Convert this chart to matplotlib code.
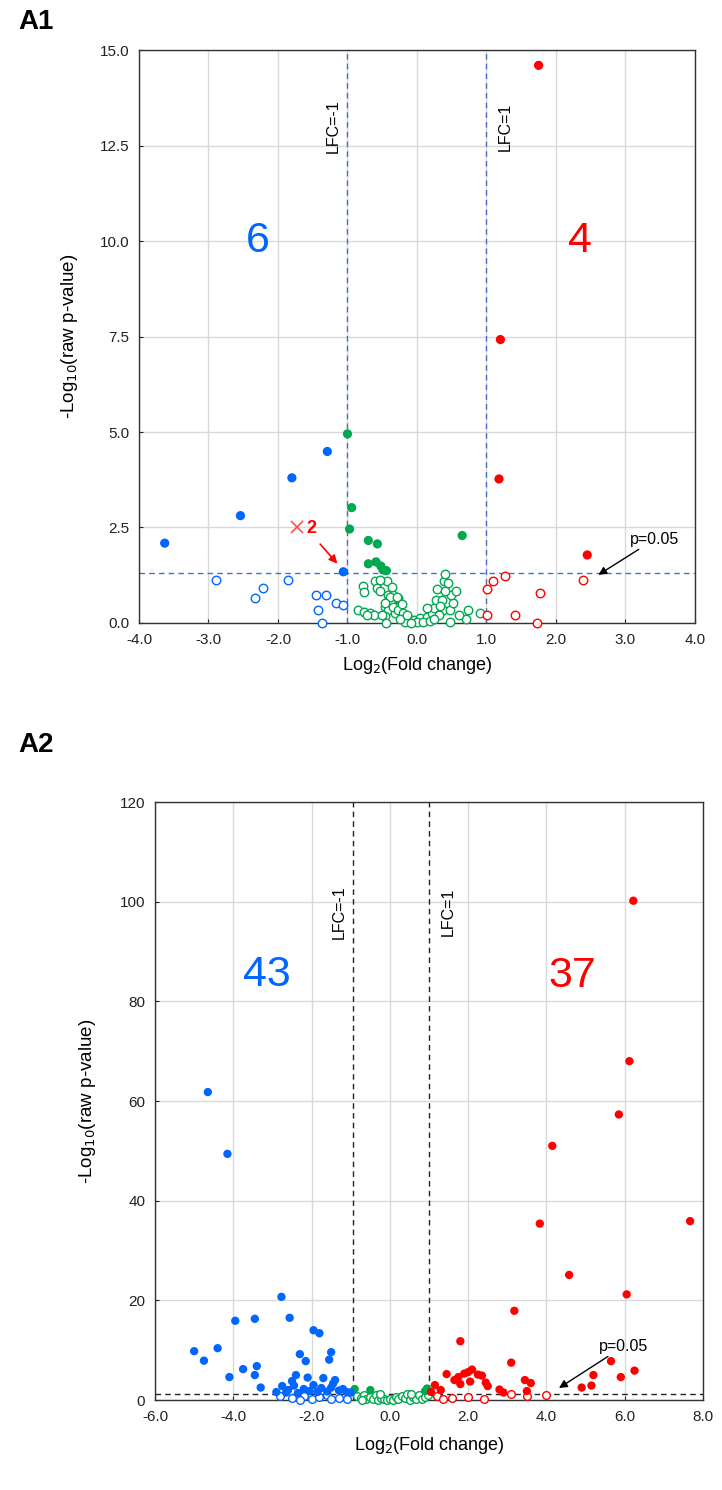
import matplotlib.pyplot as plt
from matplotlib.ticker import FormatStrFormatter

plt.rcParams['font.family'] = ['Liberation Sans', 'DejaVu Sans']

BLUE = '#0066FF'
GREEN = '#00A850'
RED = '#FF0000'

# ---------------- A1 data (log2 FC, -log10 p) ----------------
a1_blue_fill = [(-3.63, 2.09), (-2.54, 2.81), (-1.80, 3.80), (-1.29, 4.49), (-1.06, 1.34)]
a1_blue_open = [(-2.89, 1.13), (-2.21, 0.92), (-2.33, 0.65), (-1.85, 1.13), (-1.45, 0.72),
                (-1.31, 0.72), (-1.42, 0.34), (-1.17, 0.52), (-1.07, 0.47), (-1.36, 0.01)]
a1_green_fill = [(-1.00, 4.95), (-0.94, 3.02), (-0.97, 2.46), (-0.70, 2.16), (-0.57, 2.07),
                 (-0.70, 1.55), (-0.59, 1.60), (-0.52, 1.49), (-0.44, 1.37), (-0.49, 1.39),
                 (0.65, 2.29)]
a1_green_open = [(-0.77, 0.97), (-0.76, 0.82), (-0.85, 0.34), (-0.76, 0.30), (-0.68, 0.25),
                 (-0.60, 1.10), (-0.58, 0.91), (-0.53, 0.85), (-0.43, 1.10), (-0.41, 0.73),
                 (-0.38, 0.60), (-0.46, 0.43), (-0.41, 0.34), (-0.46, 0.17), (-0.44, 0.00),
                 (-0.32, 0.25), (-0.29, 0.43), (-0.34, 0.73), (-0.27, 0.65), (-0.53, 1.13),
                 (-0.39, 0.69), (-0.29, 0.69), (-0.46, 0.52), (-0.34, 0.43), (-0.27, 0.34),
                 (-0.20, 0.25), (-0.13, 0.12), (-0.05, 0.08), (0.04, 0.12), (0.14, 0.15),
                 (0.21, 0.25), (0.24, 0.38), (0.38, 0.34), (0.47, 0.34), (0.31, 0.21),
                 (0.48, 0.03), (0.27, 0.60), (0.36, 0.60), (0.52, 0.53), (0.49, 0.73),
                 (0.29, 0.88), (0.41, 0.85), (0.56, 0.84), (0.39, 1.10), (0.40, 1.28),
                 (0.74, 0.34), (0.71, 0.10), (0.90, 0.25), (0.00, 0.03), (-0.17, 0.03),
                 (0.09, 0.03), (-0.24, 0.10), (-0.62, 0.20), (-0.72, 0.22), (-0.22, 0.50),
                 (-0.15, 0.20), (-0.08, 0.00), (0.18, 0.05), (0.33, 0.45), (0.44, 1.05),
                 (0.60, 0.20), (-0.36, 0.95), (-0.50, 0.20), (0.15, 0.40), (0.25, 0.10)]
a1_red_fill = [(1.75, 14.6), (1.20, 7.42), (1.18, 3.77), (2.45, 1.78)]
a1_red_open = [(1.01, 0.89), (1.09, 1.10), (1.27, 1.24), (1.01, 0.21), (1.41, 0.21),
               (1.77, 0.79), (1.72, 0.01), (2.39, 1.13)]

# ---------------- A2 data ----------------
a2_blue_fill = [(-4.65, 61.8), (-4.15, 49.4), (-5.0, 9.8), (-4.75, 7.9), (-4.4, 10.4),
                (-3.95, 15.9), (-3.45, 16.3), (-4.1, 4.6), (-3.75, 6.2), (-3.4, 6.8),
                (-3.45, 5.0), (-3.3, 2.5), (-2.77, 20.7), (-2.56, 16.5), (-2.75, 2.8),
                (-2.3, 9.2), (-2.15, 7.8), (-1.95, 14.0), (-1.8, 13.4), (-1.5, 9.6),
                (-1.55, 8.1), (-1.95, 3.0), (-2.4, 5.0), (-2.6, 2.0), (-1.7, 4.4),
                (-1.45, 3.3), (-2.2, 2.2), (-2.05, 1.8), (-1.85, 1.6), (-1.3, 1.9),
                (-1.2, 2.2), (-2.5, 3.8), (-2.65, 1.5), (-2.35, 1.4), (-1.6, 1.7),
                (-1.1, 1.6), (-1.4, 4.0), (-1.5, 2.5), (-2.1, 4.5), (-2.9, 1.6),
                (-1.0, 1.5), (-1.75, 2.4), (-2.45, 2.9)]
a2_blue_open = [(-2.8, 0.8), (-2.5, 0.4), (-2.2, 0.9), (-2.0, 0.3), (-1.8, 0.6),
                (-1.6, 1.0), (-1.3, 0.5), (-1.1, 0.2), (-2.3, 0.1), (-1.5, 0.2)]
a2_green_fill = [(-0.9, 2.2), (-0.5, 2.0), (0.95, 2.3), (0.9, 1.8)]
a2_green_open = [(-0.85, 0.9), (-0.75, 0.4), (-0.65, 1.1), (-0.6, 0.2), (-0.5, 0.7),
                 (-0.42, 0.3), (-0.35, 1.0), (-0.3, 0.1), (-0.22, 0.5), (-0.15, 0.2),
                 (-0.08, 0.0), (0.0, 0.3), (0.08, 0.1), (0.15, 0.6), (0.22, 0.2),
                 (0.3, 0.9), (0.38, 0.4), (0.45, 1.2), (0.52, 0.1), (0.6, 0.7),
                 (0.68, 0.3), (0.75, 1.0), (0.82, 0.2), (0.9, 0.6), (0.97, 1.1),
                 (-0.7, 0.0), (0.55, 1.3), (-0.25, 1.2)]
a2_red_fill = [(6.22, 100.2), (6.12, 68.0), (5.85, 57.3), (4.15, 51.0), (3.83, 35.4),
               (7.67, 35.9), (4.58, 25.1), (6.05, 21.2), (3.18, 17.9), (1.8, 11.8),
               (5.65, 7.8), (6.25, 5.9), (5.2, 5.0), (5.9, 4.6), (3.1, 7.5),
               (2.0, 5.6), (2.25, 5.1), (1.9, 5.3), (1.45, 5.2), (1.15, 3.0),
               (1.3, 2.0), (1.65, 4.0), (1.8, 3.2), (2.05, 3.7), (2.35, 4.9),
               (2.45, 3.5), (2.8, 2.1), (3.45, 4.0), (3.6, 3.4), (3.5, 1.8),
               (4.9, 2.5), (5.15, 2.9), (2.1, 6.1), (1.75, 4.6), (2.5, 2.8),
               (1.05, 1.6), (2.9, 1.5)]
a2_red_open = [(1.2, 0.8), (1.6, 0.4), (2.4, 0.3), (3.1, 1.2), (3.5, 0.9),
               (4.0, 1.0), (1.35, 0.3), (2.0, 0.7)]


def dots(ax, pts, color, filled, s):
    xs = [p[0] for p in pts]
    ys = [p[1] for p in pts]
    if filled:
        ax.scatter(xs, ys, s=s, color=color, edgecolors='none', zorder=3, clip_on=False)
    else:
        ax.scatter(xs, ys, s=s * 0.85, facecolors='white', edgecolors=color,
                   linewidths=1.0, zorder=3, clip_on=False)


def style(ax):
    ax.grid(True, color='#D9D9D9', linewidth=1.0)
    ax.set_axisbelow(True)
    for sp in ax.spines.values():
        sp.set_color('#333333')
        sp.set_linewidth(1.0)
    ax.tick_params(direction='in', length=3, labelsize=11, colors='#222222', pad=7)


fig = plt.figure(figsize=(7.22, 14.9), dpi=100)

# ---------------- A1 ----------------
ax1 = fig.add_axes([0.1925, 0.5819, 0.7701, 0.3845])
style(ax1)
ax1.set_xlim(-4, 4)
ax1.set_ylim(0, 15)
ax1.set_xticks([-4, -3, -2, -1, 0, 1, 2, 3, 4])
ax1.set_yticks([0, 2.5, 5, 7.5, 10, 12.5, 15])
ax1.xaxis.set_major_formatter(FormatStrFormatter('%.1f'))
ax1.yaxis.set_major_formatter(FormatStrFormatter('%.1f'))

ax1.axvline(-1.0, color='#4472C4', linestyle=(0, (4, 3)), linewidth=1.0, zorder=2)
ax1.axvline(1.0, color='#4472C4', linestyle=(0, (4, 3)), linewidth=1.0, zorder=2)
ax1.axhline(1.301, color='#4472C4', linestyle=(0, (4, 3)), linewidth=1.0, zorder=2)

dots(ax1, a1_green_open, GREEN, False, 44)
dots(ax1, a1_blue_open, BLUE, False, 44)
dots(ax1, a1_red_open, RED, False, 44)
dots(ax1, a1_green_fill, GREEN, True, 44)
dots(ax1, a1_blue_fill, BLUE, True, 44)
dots(ax1, a1_red_fill, RED, True, 44)

ax1.plot([-1.73], [2.52], marker='x', color='#FF5050', markersize=8, mew=1.2, zorder=4)
ax1.text(-1.52, 2.47, '2', color=RED, fontsize=13, fontweight='bold', ha='center', va='center')
ax1.annotate('', xy=(-1.12, 1.50), xytext=(-1.42, 2.12),
             arrowprops=dict(arrowstyle='-|>', color=RED, lw=1.2, mutation_scale=12))
ax1.annotate('p=0.05', xy=(2.61, 1.26), xytext=(3.07, 2.0), fontsize=11.5,
             ha='left', va='bottom',
             arrowprops=dict(arrowstyle='-|>', color='black', lw=1.0, mutation_scale=12,
                             shrinkA=0, shrinkB=0))

ax1.text(-2.29, 10.0, '6', color=BLUE, fontsize=31, ha='center', va='center')
ax1.text(2.35, 10.0, '4', color=RED, fontsize=31, ha='center', va='center')
ax1.text(-1.2, 13.0, 'LFC=-1', rotation=90, fontsize=11.5, ha='center', va='center')
ax1.text(1.27, 13.0, 'LFC=1', rotation=90, fontsize=11.5, ha='center', va='center')

ax1.set_xlabel('Log$_2$(Fold change)', fontsize=13, labelpad=6)
ax1.set_ylabel('-Log$_{10}$(raw p-value)', fontsize=13.5, labelpad=14)
fig.text(0.025, 0.985, 'A1', fontsize=20, fontweight='bold', ha='left', va='center')

# ---------------- A2 ----------------
ax2 = fig.add_axes([0.2147, 0.0604, 0.7590, 0.4013])
style(ax2)
ax2.set_xlim(-6, 8)
ax2.set_ylim(0, 120)
ax2.set_xticks([-6, -4, -2, 0, 2, 4, 6, 8])
ax2.set_yticks([0, 20, 40, 60, 80, 100, 120])
ax2.xaxis.set_major_formatter(FormatStrFormatter('%.1f'))

ax2.axvline(-0.93, color='#222222', linestyle=(0, (4, 3)), linewidth=1.0, zorder=2)
ax2.axvline(1.0, color='#222222', linestyle=(0, (4, 3)), linewidth=1.0, zorder=2)
ax2.axhline(1.301, color='#222222', linestyle=(0, (4, 3)), linewidth=1.0, zorder=2)

dots(ax2, a2_green_open, GREEN, False, 36)
dots(ax2, a2_blue_open, BLUE, False, 36)
dots(ax2, a2_red_open, RED, False, 36)
dots(ax2, a2_green_fill, GREEN, True, 36)
dots(ax2, a2_blue_fill, BLUE, True, 36)
dots(ax2, a2_red_fill, RED, True, 36)

ax2.annotate('p=0.05', xy=(4.32, 2.4), xytext=(5.35, 9.3), fontsize=11.5,
             ha='left', va='bottom',
             arrowprops=dict(arrowstyle='-|>', color='black', lw=1.0, mutation_scale=12,
                             shrinkA=0, shrinkB=0))
ax2.text(-3.14, 85.3, '43', color=BLUE, fontsize=31, ha='center', va='center')
ax2.text(4.65, 85.0, '37', color=RED, fontsize=31, ha='center', va='center')
ax2.text(-1.3, 98.0, 'LFC=-1', rotation=90, fontsize=11.5, ha='center', va='center')
ax2.text(1.49, 98.0, 'LFC=1', rotation=90, fontsize=11.5, ha='center', va='center')

ax2.set_xlabel('Log$_2$(Fold change)', fontsize=13, labelpad=8)
ax2.set_ylabel('-Log$_{10}$(raw p-value)', fontsize=13.5, labelpad=16)
fig.text(0.025, 0.5, 'A2', fontsize=20, fontweight='bold', ha='left', va='center')

fig.savefig('out.png', dpi=100)
